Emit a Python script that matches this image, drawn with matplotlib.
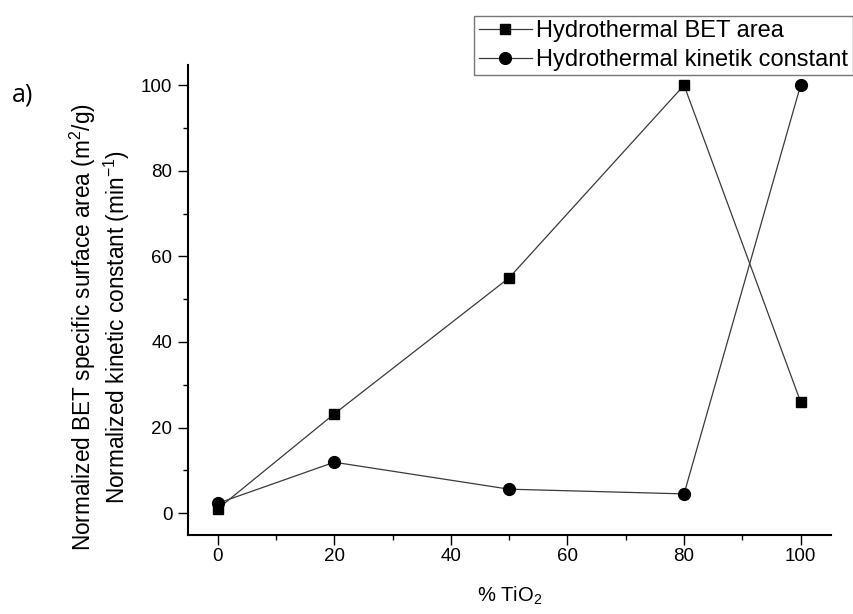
import matplotlib
matplotlib.use("Agg")
import matplotlib.pyplot as plt
from matplotlib.ticker import MultipleLocator

plt.rcParams['font.family'] = ['Liberation Sans', 'DejaVu Sans']
plt.rcParams['mathtext.fontset'] = 'custom'
plt.rcParams['mathtext.rm'] = 'Liberation Sans'
plt.rcParams['mathtext.it'] = 'Liberation Sans:italic'

# TiO2 content (%) and normalized responses
tio2 = [0, 20, 50, 80, 100]
bet_area = [1, 23.2, 55, 100, 26]
kinetic_const = [2.3, 11.9, 5.6, 4.5, 100]

series_labels = ["Hydrothermal BET area", "Hydrothermal kinetik constant"]
x_ticks = [0, 20, 40, 60, 80, 100]
y_ticks = [0, 20, 40, 60, 80, 100]

fig = plt.figure(figsize=(8.54, 6.14), dpi=100)
ax = fig.add_axes([0.2198, 0.1287, 0.973 - 0.2198, 0.894 - 0.1287])

line_kw = dict(color='#3a3a3a', linewidth=0.9, markerfacecolor='black',
               markeredgecolor='black')
ax.plot(tio2, bet_area, marker='s', markersize=7.5, label=series_labels[0], **line_kw)
ax.plot(tio2, kinetic_const, marker='o', markersize=8.5, label=series_labels[1], **line_kw)

ax.set_xlim(-5.15, 105.2)
ax.set_ylim(-5.1, 104.7)
ax.set_xticks(x_ticks)
ax.set_yticks(y_ticks)
ax.xaxis.set_minor_locator(MultipleLocator(10))
ax.yaxis.set_minor_locator(MultipleLocator(10))

for side in ('top', 'right'):
    ax.spines[side].set_visible(False)
for side in ('left', 'bottom'):
    ax.spines[side].set_linewidth(1.5)

ax.tick_params(which='major', direction='out', length=7, width=1.0,
               labelsize=13.5, pad=4)
ax.tick_params(axis='x', which='major', pad=2.5)
ax.tick_params(which='minor', direction='out', length=3.8, width=1.0)

ax.set_xlabel('% TiO$_2$', fontsize=14.5, labelpad=14)

fig.text(0.117, 0.468, 'Normalized BET specific surface area (m$^2$/g)\n'
         'Normalized kinetic constant (min$^{-1}$)',
         rotation=90, ha='center', va='center', fontsize=16.3,
         linespacing=1.2)

fig.text(0.014, 0.835, 'a)', fontsize=18, family=['Open Sans', 'DejaVu Sans'])

leg = fig.legend(loc='upper right', bbox_to_anchor=(0.9985, 0.9745),
                 fontsize=17, frameon=True, fancybox=False, edgecolor='#555555',
                 handlelength=2.25, handletextpad=0.2, borderpad=0.18,
                 labelspacing=0.3, borderaxespad=0)
leg.get_frame().set_linewidth(1.0)

fig.savefig('out.png', dpi=100)
